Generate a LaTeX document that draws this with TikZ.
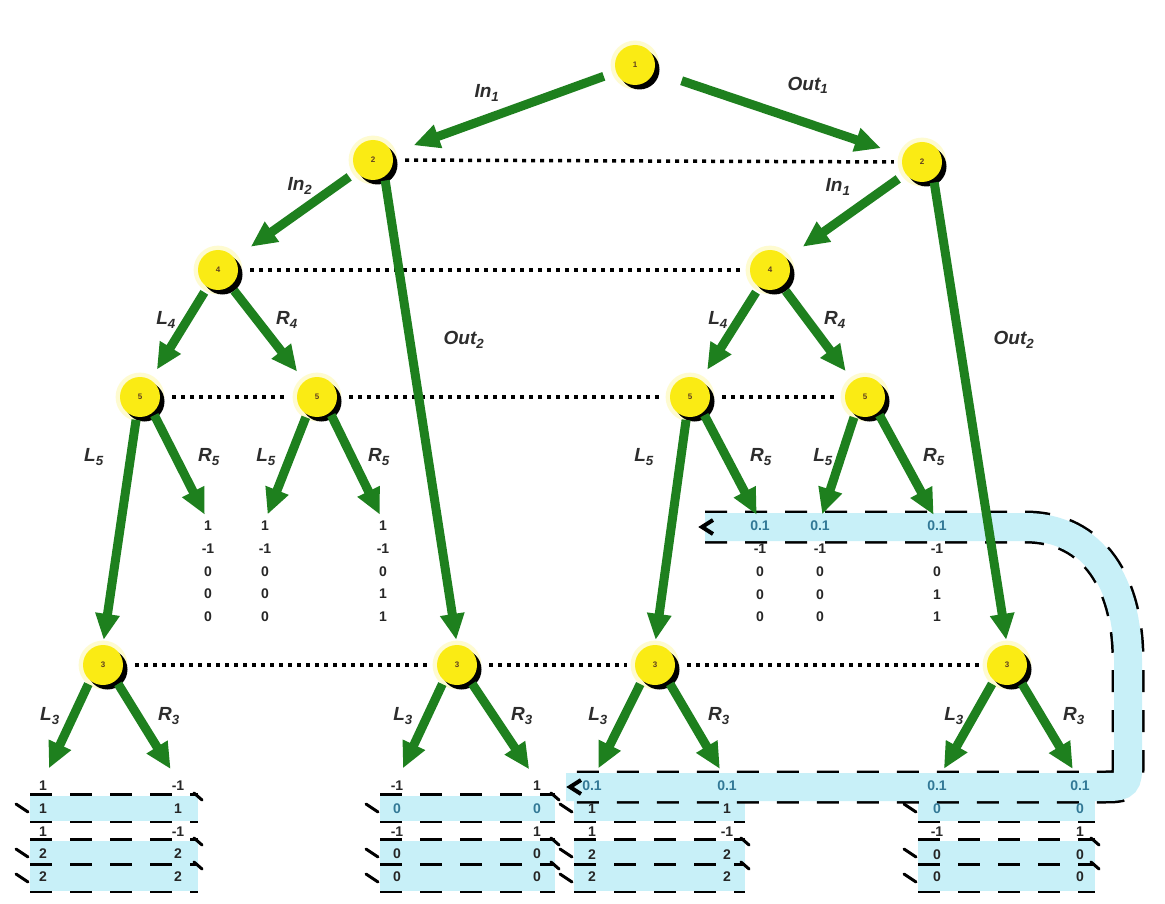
\documentclass[tikz,border=0pt]{standalone}
\usepackage{fontspec}
\setmainfont{Liberation Sans}
\usetikzlibrary{arrows.meta,shadows}
\definecolor{grn}{RGB}{30,128,30}
\definecolor{nodey}{RGB}{250,235,20}
\definecolor{band}{RGB}{200,240,248}
\definecolor{blu}{RGB}{50,120,150}
\definecolor{lab}{RGB}{45,45,45}
\begin{document}
\begin{tikzpicture}[x=1pt,y=-1pt,
  st/.style={circle, fill=nodey, minimum size=40pt, inner sep=0pt,
    font=\fontsize{8}{8}\selectfont\bfseries, text=brown!50!black,
    general shadow={fill=nodey!20, shadow scale=1.22},
    general shadow={fill=black, shadow xshift=4.5pt, shadow yshift=-4.5pt}},
  garrow/.style={draw=grn, line width=9pt, -{Triangle[length=26pt,width=23pt]},
    shorten <=6pt, shorten >=10pt},
  elab/.style={font=\fontsize{19}{19}\selectfont\bfseries\itshape, text=lab, inner sep=0pt},
  dotline/.style={draw=black, line width=3.5pt, dash pattern=on 4pt off 5pt,
    shorten <=12pt, shorten >=8pt},
  col/.style={align=center, inner sep=0pt, anchor=north,
    font=\fontsize{14}{22.7}\selectfont\bfseries, text=black!85},
  bandout/.style={draw=black, line width=30pt, dash pattern=on 22pt off 18pt},
  bandin/.style={draw=band, line width=25pt},
  tick/.style={draw=black, line width=3pt, line cap=round},
]
\fill[white] (0,0) rectangle (1165,904);
\useasboundingbox (0,0) rectangle (1165,904);

% ---- highlight bands (bottom groups) ----
\foreach \xa/\xb in {30/198, 380/555, 574/745, 918/1095} {
  \foreach \yy in {808,853,878} {
    \draw[bandout] (\xa,\yy) -- (\xb,\yy);
    \draw[bandin] (\xa,\yy) -- (\xb,\yy);
    \draw[tick] (\xa-14,\yy-4) -- (\xa-2,\yy+4);
  }
  \foreach \yy in {797,842,866} \draw[tick] (\xb-4,\yy-4) -- (\xb+4,\yy+3);
}

% ---- big highlight loop ----
\draw[bandout, line width=33pt] (705,527) -- (1025,527)
  .. controls (1095,527) and (1128,585) .. (1128,660) -- (1128,770)
  .. controls (1128,787) and (1120,787) .. (1105,787) -- (566,787);
\draw[bandin, line width=28pt] (705,527) -- (1025,527)
  .. controls (1095,527) and (1128,585) .. (1128,660) -- (1128,770)
  .. controls (1128,787) and (1120,787) .. (1105,787) -- (566,787);
\draw[line width=4pt] (713,520) -- (702,527) -- (713,534);
\draw[line width=4pt] (581,780) -- (570,787) -- (581,794);

% ---- tree nodes ----
\node[st] (n1) at (635,65) {1};
\node[st] (n2a) at (373,160) {2};
\node[st] (n2b) at (922,162) {2};
\node[st] (n4a) at (218,270) {4};
\node[st] (n4b) at (770,270) {4};
\node[st] (n5a) at (140,397) {5};
\node[st] (n5b) at (317,397) {5};
\node[st] (n5c) at (690,397) {5};
\node[st] (n5d) at (865,397) {5};
\node[st] (n3a) at (103,665) {3};
\node[st] (n3b) at (457,665) {3};
\node[st] (n3c) at (655,665) {3};
\node[st] (n3d) at (1007,665) {3};

% ---- value columns ----
\node[col] (ca) at (208,521) {1\\-1\\0\\0\\0};
\node[col] (cb) at (265,521) {1\\-1\\0\\0\\0};
\node[col] (cc) at (383,521) {1\\-1\\0\\1\\1};
\node[col] (cd) at (760,521) {\textcolor{blu}{0.1}\\-1\\0\\0\\0};
\node[col] (ce) at (820,521) {\textcolor{blu}{0.1}\\-1\\0\\0\\0};
\node[col] (cf) at (937,521) {\textcolor{blu}{0.1}\\-1\\0\\1\\1};

\node[col] (ba1) at (43,781) {1\\1\\1\\2\\2};
\node[col] (ba2) at (178,781) {-1\\1\\-1\\2\\2};
\node[col] (bb1) at (397,781) {-1\\\textcolor{blu}{0}\\-1\\0\\0};
\node[col] (bb2) at (537,781) {1\\\textcolor{blu}{0}\\1\\0\\0};
\node[col] (bc1) at (592,781) {\textcolor{blu}{0.1}\\1\\1\\2\\2};
\node[col] (bc2) at (727,781) {\textcolor{blu}{0.1}\\1\\-1\\2\\2};
\node[col] (bd1) at (937,781) {\textcolor{blu}{0.1}\\\textcolor{blu}{0}\\-1\\0\\0};
\node[col] (bd2) at (1080,781) {\textcolor{blu}{0.1}\\\textcolor{blu}{0}\\1\\0\\0};

% ---- dotted level lines ----
\draw[dotline] (n2a.east) -- (n2b.west);
\draw[dotline] (n4a.east) -- (n4b.west);
\draw[dotline] (n5a.east) -- (n5b.west);
\draw[dotline] (n5b.east) -- (n5c.west);
\draw[dotline] (n5c.east) -- (n5d.west);
\draw[dotline] (n3a.east) -- (n3b.west);
\draw[dotline] (n3b.east) -- (n3c.west);
\draw[dotline] (n3c.east) -- (n3d.west);

% ---- green arrows ----
\draw[garrow, shorten <=13pt, shorten >=23pt] (n1) -- (n2a);
\draw[garrow, shorten <=29pt, shorten >=23pt] (n1) -- (n2b);
\draw[garrow, shorten <=9pt, shorten >=20pt] (n2a) -- (n4a);
\draw[garrow, shorten <=9pt, shorten >=20pt] (n2b) -- (n4b);
\draw[garrow, shorten <=4pt, shorten >=5pt] (n2a.-55) -- (n3b.north);
\draw[garrow, shorten <=4pt, shorten >=5pt] (n2b.-55) -- (n3d.north);
\draw[garrow, shorten >=12pt] (n4a) -- (n5a);
\draw[garrow, shorten >=12pt] (n4a) -- (n5b);
\draw[garrow, shorten >=12pt] (n4b) -- (n5c);
\draw[garrow, shorten >=12pt] (n4b) -- (n5d);
\draw[garrow, shorten <=3pt, shorten >=5pt] (n5a.-100) -- (n3a.north);
\draw[garrow, shorten <=3pt, shorten >=5pt] (n5c.-100) -- (n3c.north);
\draw[garrow, shorten <=3pt, shorten >=7pt] (n5a.-50) -- (ca.north);
\draw[garrow, shorten <=3pt, shorten >=7pt] (n5b.-120) -- (cb.north);
\draw[garrow, shorten <=3pt, shorten >=7pt] (n5b.-50) -- (cc.north);
\draw[garrow, shorten <=3pt, shorten >=7pt] (n5c.-50) -- (cd.north);
\draw[garrow, shorten <=3pt, shorten >=7pt] (n5d.-120) -- (ce.north);
\draw[garrow, shorten <=3pt, shorten >=7pt] (n5d.-50) -- (cf.north);
\foreach \n/\l/\r in {n3a/ba1/ba2, n3b/bb1/bb2, n3c/bc1/bc2, n3d/bd1/bd2} {
  \draw[garrow, shorten <=4pt, shorten >=14pt] (\n.-130) -- (\l.north);
  \draw[garrow, shorten <=4pt, shorten >=14pt] (\n.-50) -- (\r.north);
}

% ---- edge labels ----
\node[elab] (t1) at (487,93) {In\textsubscript{1}};
\node[elab] (t2) at (808,85) {Out\textsubscript{1}};
\node[elab] (t3) at (300,186) {In\textsubscript{2}};
\node[elab] (t4) at (838,187) {In\textsubscript{1}};
\node[elab] (t5) at (464,340) {Out\textsubscript{2}};
\node[elab] (t6) at (1014,340) {Out\textsubscript{2}};
\node[elab] (t7) at (166,320) {L\textsubscript{4}};
\node[elab] (t8) at (287,320) {R\textsubscript{4}};
\node[elab] (t9) at (718,320) {L\textsubscript{4}};
\node[elab] (t10) at (835,320) {R\textsubscript{4}};
\node[elab] (t11) at (94,457) {L\textsubscript{5}};
\node[elab] (t12) at (209,457) {R\textsubscript{5}};
\node[elab] (t13) at (266,457) {L\textsubscript{5}};
\node[elab] (t14) at (379,457) {R\textsubscript{5}};
\node[elab] (t15) at (644,457) {L\textsubscript{5}};
\node[elab] (t16) at (761,457) {R\textsubscript{5}};
\node[elab] (t17) at (823,457) {L\textsubscript{5}};
\node[elab] (t18) at (934,457) {R\textsubscript{5}};
\node[elab] (t19) at (50,716) {L\textsubscript{3}};
\node[elab] (t20) at (169,716) {R\textsubscript{3}};
\node[elab] (t21) at (403,716) {L\textsubscript{3}};
\node[elab] (t22) at (522,716) {R\textsubscript{3}};
\node[elab] (t23) at (598,716) {L\textsubscript{3}};
\node[elab] (t24) at (719,716) {R\textsubscript{3}};
\node[elab] (t25) at (954,716) {L\textsubscript{3}};
\node[elab] (t26) at (1074,716) {R\textsubscript{3}};
\end{tikzpicture}
\end{document}
